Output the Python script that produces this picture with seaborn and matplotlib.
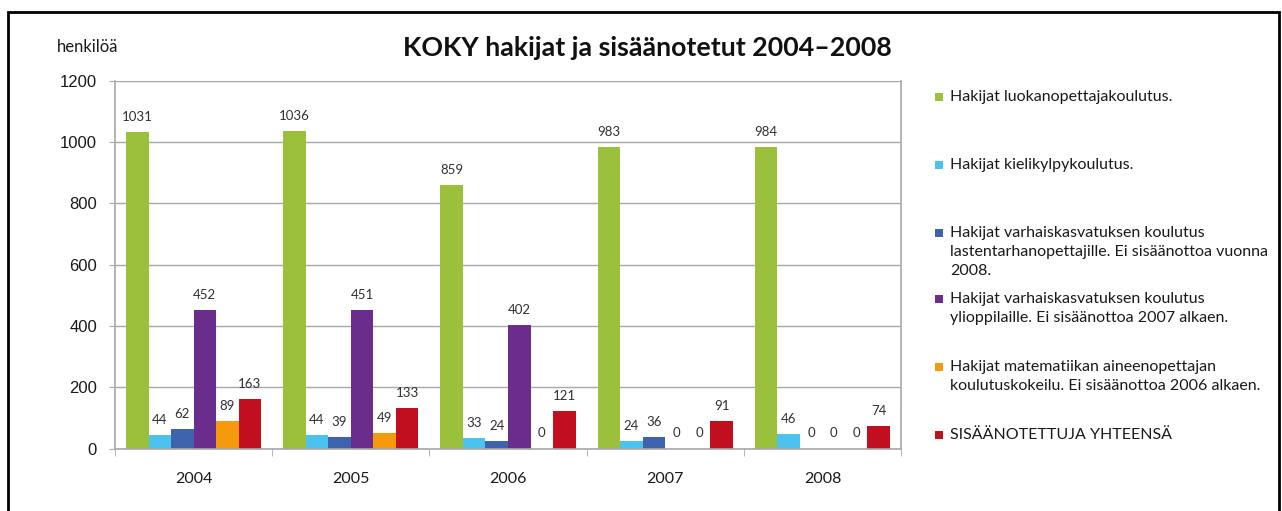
import matplotlib
matplotlib.use("Agg")
import matplotlib.pyplot as plt
from matplotlib.patches import Rectangle
import seaborn as sns
import pandas as pd

years = ["2004", "2005", "2006", "2007", "2008"]
series = [
    "Hakijat luokanopettajakoulutus.",
    "Hakijat kielikylpykoulutus.",
    "Hakijat varhaiskasvatuksen koulutus\nlastentarhanopettajille. Ei sisäänottoa vuonna\n2008.",
    "Hakijat varhaiskasvatuksen koulutus\nylioppilaille. Ei sisäänottoa 2007 alkaen.",
    "Hakijat matematiikan aineenopettajan\nkoulutuskokeilu. Ei sisäänottoa 2006 alkaen.",
    "SISÄÄNOTETTUJA YHTEENSÄ",
]
luokanopettaja = [1031, 1036, 859, 983, 984]
kielikylpy = [44, 44, 33, 24, 46]
lastentarha = [62, 39, 24, 36, 0]
ylioppilaille = [452, 451, 402, 0, 0]
matematiikka = [89, 49, 0, 0, 0]
yhteensa = [163, 133, 121, 91, 74]
colors = ["#9BC13C", "#4CC3EE", "#3F62AD", "#6A2D8C", "#F59A0C", "#C10F20"]

values = [luokanopettaja, kielikylpy, lastentarha, ylioppilaille, matematiikka, yhteensa]
rows = []
for s, vals in zip(series, values):
    for y, v in zip(years, vals):
        rows.append({"vuosi": y, "sarja": s, "arvo": v})
df = pd.DataFrame(rows)

sns.set_style("white")
plt.rcParams["font.family"] = ["Lato", "DejaVu Sans"]

fig = plt.figure(figsize=(12.82, 5.11), dpi=100)
ax = fig.add_axes([115 / 1282, 1 - 448.5 / 511, (901 - 115) / 1282, (448.5 - 80.7) / 511])

sns.barplot(data=df, x="vuosi", y="arvo", hue="sarja", order=years, hue_order=series,
            palette=colors, saturation=1, width=0.86, linewidth=0, legend=False, ax=ax)

for cont in ax.containers:
    ax.bar_label(cont, fmt="%d", padding=6.5, fontsize=9.5, color="#303030")

grid_c = "#A8A8A8"
ax.set_ylim(0, 1200)
ax.set_xlim(-0.5, len(years) - 0.5)
ax.set_yticks(range(0, 1201, 200))
ax.yaxis.grid(True, color=grid_c, linewidth=1)
ax.set_axisbelow(True)
for side in ["left", "bottom", "right"]:
    ax.spines[side].set_visible(True)
    ax.spines[side].set_color(grid_c)
    ax.spines[side].set_linewidth(1.2)
ax.spines["top"].set_visible(False)

ax.tick_params(axis="y", which="major", length=4, color=grid_c, pad=9,
               labelsize=12, labelcolor="#1a1a1a", left=True)
for lbl in ax.get_yticklabels():
    lbl.set_fontfamily(["Liberation Sans", "DejaVu Sans"])
ax.tick_params(axis="x", which="major", length=0, pad=17, labelsize=11.5, labelcolor="#1a1a1a")
ax.set_xticks([i - 0.5 for i in range(len(years) + 1)], minor=True)
ax.tick_params(axis="x", which="minor", length=5, color=grid_c, bottom=True)
ax.set_xlabel("")
ax.set_ylabel("")

fig.text(57 / 1282, 1 - 47 / 511, "henkilöä", fontsize=12, color="#1a1a1a", va="center", ha="left")
fig.text(647 / 1282, 1 - 48 / 511, "KOKY hakijat ja sisäänotetut 2004–2008",
         fontsize=19.3, fontweight="bold", color="#111111", va="center", ha="center")

# legend
first_line_y = [97, 165, 233, 299, 367, 435]
for s, c, yy in zip(series, colors, first_line_y):
    fig.patches.append(Rectangle((935 / 1282, 1 - (yy + 4) / 511), 8 / 1282, 8 / 511,
                                 transform=fig.transFigure, facecolor=c, edgecolor="none"))
    fig.text(950 / 1282, 1 - (yy - 7) / 511, s, fontsize=11.5, color="#1a1a1a",
             va="top", ha="left", linespacing=1.45)

fig.patches.append(Rectangle((8 / 1282, -0.05), (1279 - 8) / 1282, 1.05 - 12.5 / 511,
                             transform=fig.transFigure, fill=False, edgecolor="black", linewidth=2))

fig.savefig("out.png", dpi=100)
